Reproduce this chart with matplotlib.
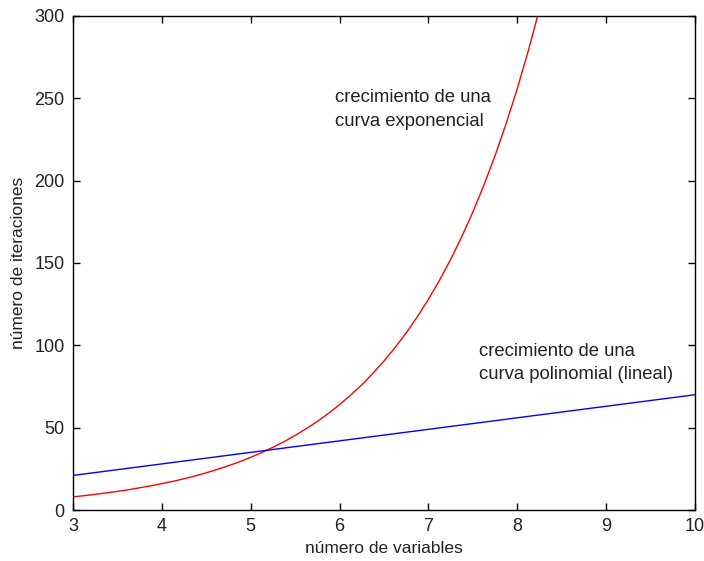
import matplotlib
matplotlib.use("Agg")
import matplotlib.pyplot as plt

# Data
x_exp = [3.0, 3.125, 3.25, 3.375, 3.5, 3.625, 3.75, 3.875, 4.0, 4.125, 4.25,
         4.375, 4.5, 4.625, 4.75, 4.875, 5.0, 5.125, 5.25, 5.375, 5.5, 5.625,
         5.75, 5.875, 6.0, 6.125, 6.25, 6.375, 6.5, 6.625, 6.75, 6.875, 7.0,
         7.125, 7.25, 7.375, 7.5, 7.625, 7.75, 7.875, 8.0, 8.125, 8.25]
y_exp = [8.0, 8.7, 9.5, 10.4, 11.3, 12.3, 13.5, 14.7, 16.0, 17.4, 19.0,
         20.7, 22.6, 24.7, 26.9, 29.3, 32.0, 34.9, 38.1, 41.5, 45.3, 49.4,
         53.8, 58.7, 64.0, 69.8, 76.1, 83.0, 90.5, 98.7, 107.6, 117.4, 128.0,
         139.6, 152.2, 166.0, 181.0, 197.4, 215.3, 234.8, 256.0, 279.2, 304.4]
x_lin = [3.0, 10.0]
y_lin = [21.0, 70.0]

x_ticks = [3, 4, 5, 6, 7, 8, 9, 10]
y_ticks = [0, 50, 100, 150, 200, 250, 300]

label_exp = "crecimiento de una\ncurva exponencial"
label_lin = "crecimiento de una\ncurva polinomial (lineal)"
xlabel = "número de variables"
ylabel = "número de iteraciones"

plt.rcParams['font.family'] = ['Liberation Sans', 'DejaVu Sans']

fig = plt.figure(figsize=(7.04, 5.61), dpi=100)
ax = fig.add_axes([0.1037, 0.0909, 0.8836, 0.8806])

ax.plot(x_exp, y_exp, color='#ff0000', linewidth=1.0)
ax.plot(x_lin, y_lin, color='#0000ff', linewidth=1.0)

ax.set_xlim(3, 10)
ax.set_ylim(0, 300)
ax.set_xticks(x_ticks)
ax.set_yticks(y_ticks)
ax.tick_params(direction='in', length=5, width=1, top=True, right=True,
               labelsize=13, pad=6, colors='#000000', labelcolor='#222222')
for s in ax.spines.values():
    s.set_linewidth(1.0)

ax.set_xlabel(xlabel, fontsize=12.5, color='#222222', labelpad=4)
ax.set_ylabel(ylabel, fontsize=12.5, color='#222222', labelpad=6)

ax.text(5.95, 255.5, label_exp, fontsize=13.3, color='#222222', ha='left', va='top',
        linespacing=1.5)
ax.text(7.57, 101.5, label_lin, fontsize=13.3, color='#222222', ha='left', va='top',
        linespacing=1.5)

fig.savefig("out.png", dpi=100)
